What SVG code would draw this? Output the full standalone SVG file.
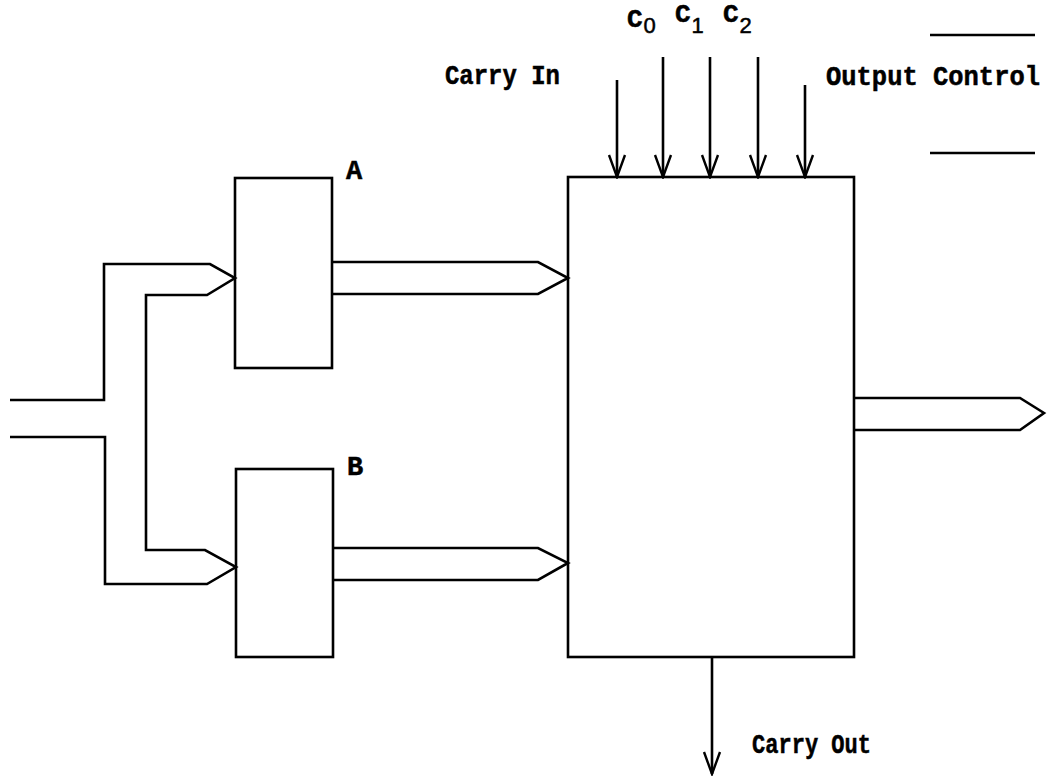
<svg xmlns="http://www.w3.org/2000/svg" width="1054" height="780" viewBox="0 0 1054 780">
<style>
.ln{fill:none;stroke:#000;stroke-width:2.6;stroke-linejoin:miter}
.box{fill:none;stroke:#000;stroke-width:2.6}
.t{font-family:"Liberation Mono","Courier New",monospace;font-weight:bold;font-size:27px;fill:#000;stroke:#000;stroke-width:0.5}
.c{font-size:26px}
.s{font-family:"Liberation Sans",Arial,sans-serif;font-weight:normal;font-size:22px}
</style>
<defs>
<marker id="ah" markerWidth="26" markerHeight="20" refX="24" refY="10" orient="auto" markerUnits="userSpaceOnUse" viewBox="0 0 26 20">
<path d="M2 2 L24 10 L2 18" fill="none" stroke="#000" stroke-width="2.4"/>
</marker>
</defs>
<rect width="1054" height="780" fill="#fff"/>
<g id="blockA">
<rect class="box" x="235" y="178" width="97" height="190"/>
<text class="t" x="346" y="179">A</text>
</g>
<g id="blockB">
<rect class="box" x="236" y="469" width="97" height="188"/>
<text class="t" x="347" y="475">B</text>
</g>
<g id="main">
<rect class="box" x="568" y="177" width="286" height="480"/>
</g>
<g id="labels">
<text class="t" x="445" y="84" textLength="115" lengthAdjust="spacingAndGlyphs">Carry In</text>
<text class="t c" x="627" y="27">C<tspan class="s" dx="1" dy="6">0</tspan></text>
<text class="t c" x="675" y="22">C<tspan class="s" dx="1" dy="11">1</tspan></text>
<text class="t c" x="723" y="22">C<tspan class="s" dx="1" dy="11">2</tspan></text>
<text class="t" x="826" y="85" textLength="214" lengthAdjust="spacingAndGlyphs">Output Control</text>
<line class="ln" x1="930" y1="35" x2="1035" y2="35"/>
<line class="ln" x1="930" y1="153" x2="1035" y2="153"/>
<text class="t" x="752" y="753" textLength="119" lengthAdjust="spacingAndGlyphs">Carry Out</text>
</g>
<g id="connectors">
<path class="ln" d="M10 400 H104 V264 H210 L235 278 L207 295 H146 V550 H205 L236 567 L207 584 H105 V437 H10"/>
<path class="ln" d="M332 262 H538 L568 278 L538 294 H332"/>
<path class="ln" d="M333 548 H538 L568 563 L538 580 H333"/>
<path class="ln" d="M854 398 H1020 L1044 413 L1020 430 H854"/>
<line class="ln" x1="617" y1="80" x2="617" y2="177" marker-end="url(#ah)"/>
<line class="ln" x1="663" y1="57" x2="663" y2="177" marker-end="url(#ah)"/>
<line class="ln" x1="710" y1="57" x2="710" y2="177" marker-end="url(#ah)"/>
<line class="ln" x1="758" y1="57" x2="758" y2="177" marker-end="url(#ah)"/>
<line class="ln" x1="805" y1="85" x2="805" y2="177" marker-end="url(#ah)"/>
<line class="ln" x1="712" y1="657" x2="712" y2="774" marker-end="url(#ah)"/>
</g>
</svg>
